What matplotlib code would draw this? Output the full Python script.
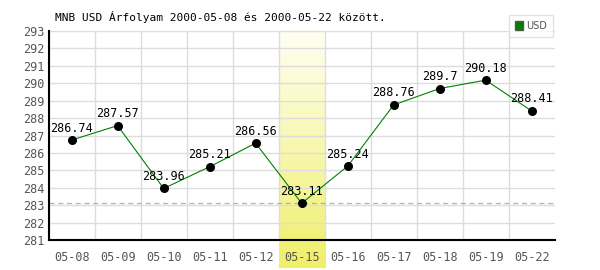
import matplotlib.pyplot as plt
import numpy as np
from matplotlib.colors import LinearSegmentedColormap

dates = ['05-08', '05-09', '05-10', '05-11', '05-12', '05-15',
         '05-16', '05-17', '05-18', '05-19', '05-22']
rates = [286.74, 287.57, 283.96, 285.21, 286.56, 283.11,
         285.24, 288.76, 289.7, 290.18, 288.41]
yticks = list(range(281, 294))
highlight = '05-15'

plt.rcParams['font.family'] = 'DejaVu Sans Mono'

fig = plt.figure(figsize=(6, 2.7), dpi=100)
ax = fig.add_axes([0.081, 0.111, 0.8435, 0.774])

n = len(dates)
x = np.arange(n)
ax.set_xlim(-0.5, n - 0.5)
ax.set_ylim(281, 293)

# highlighted day: gradient band reaching below the axis
hi = dates.index(highlight)
cmap = LinearSegmentedColormap.from_list('band', ['#fffff4', '#f0ef68'])
grad = np.linspace(0, 1, 256).reshape(-1, 1)
trans = ax.get_xaxis_transform()
ax.imshow(grad, cmap=cmap, aspect='auto', origin='upper',
          extent=(hi - 0.5, hi + 0.5, -0.135, 1.0), transform=trans,
          clip_on=False, zorder=0)

ax.set_xticks(x - 0.5, minor=True)
ax.set_yticks(yticks)
ax.grid(True, which='minor', axis='x', color='#dddddd', lw=1)
ax.grid(True, which='major', axis='y', color='#dddddd', lw=1)
ax.set_axisbelow(True)

ax.axhline(min(rates), color='#99c299', ls=(0, (4, 3)), lw=0.9, zorder=1)

ax.plot(x, rates, color='#008000', lw=0.8, zorder=3)
ax.scatter(x, rates, s=30, color='black', zorder=4)
for xi, v in zip(x, rates):
    ax.annotate(f'{v:g}', (xi, v), xytext=(0, 4), textcoords='offset points',
                ha='center', va='bottom', fontsize=8.5, color='black', zorder=5)

ax.set_xticks(x)
ax.set_xticklabels(dates)
ax.tick_params(axis='both', which='both', length=0, labelsize=8.5,
               labelcolor='#555555')
ax.tick_params(axis='x', pad=8)
ax.tick_params(axis='y', pad=3)

for s in ['top', 'right']:
    ax.spines[s].set_visible(False)
ax.spines['left'].set_color('black')
ax.spines['bottom'].set_color('black')
ax.spines['left'].set_linewidth(1.5)
ax.spines['bottom'].set_linewidth(1.5)

fig.text(55 / 600, 1 - 17 / 270, 'MNB USD Árfolyam 2000-05-08 és 2000-05-22 között.',
         fontsize=8, va='center', ha='left', color='black')

leg = fig.legend([plt.Rectangle((0, 0), 1, 1, fc='#008000', ec='#555555')], ['USD'],
                 loc='upper right', bbox_to_anchor=(553 / 600, 1 - 15 / 270),
                 frameon=True, fancybox=False, handlelength=0.9, handleheight=0.9,
                 handletextpad=0.3, borderpad=0.6, borderaxespad=0,
                 prop={'family': 'DejaVu Sans', 'size': 7})
leg.get_frame().set_edgecolor('#dddddd')
leg.get_frame().set_linewidth(1)
for t in leg.get_texts():
    t.set_color('#555555')

fig.savefig('out.png', dpi=100)
